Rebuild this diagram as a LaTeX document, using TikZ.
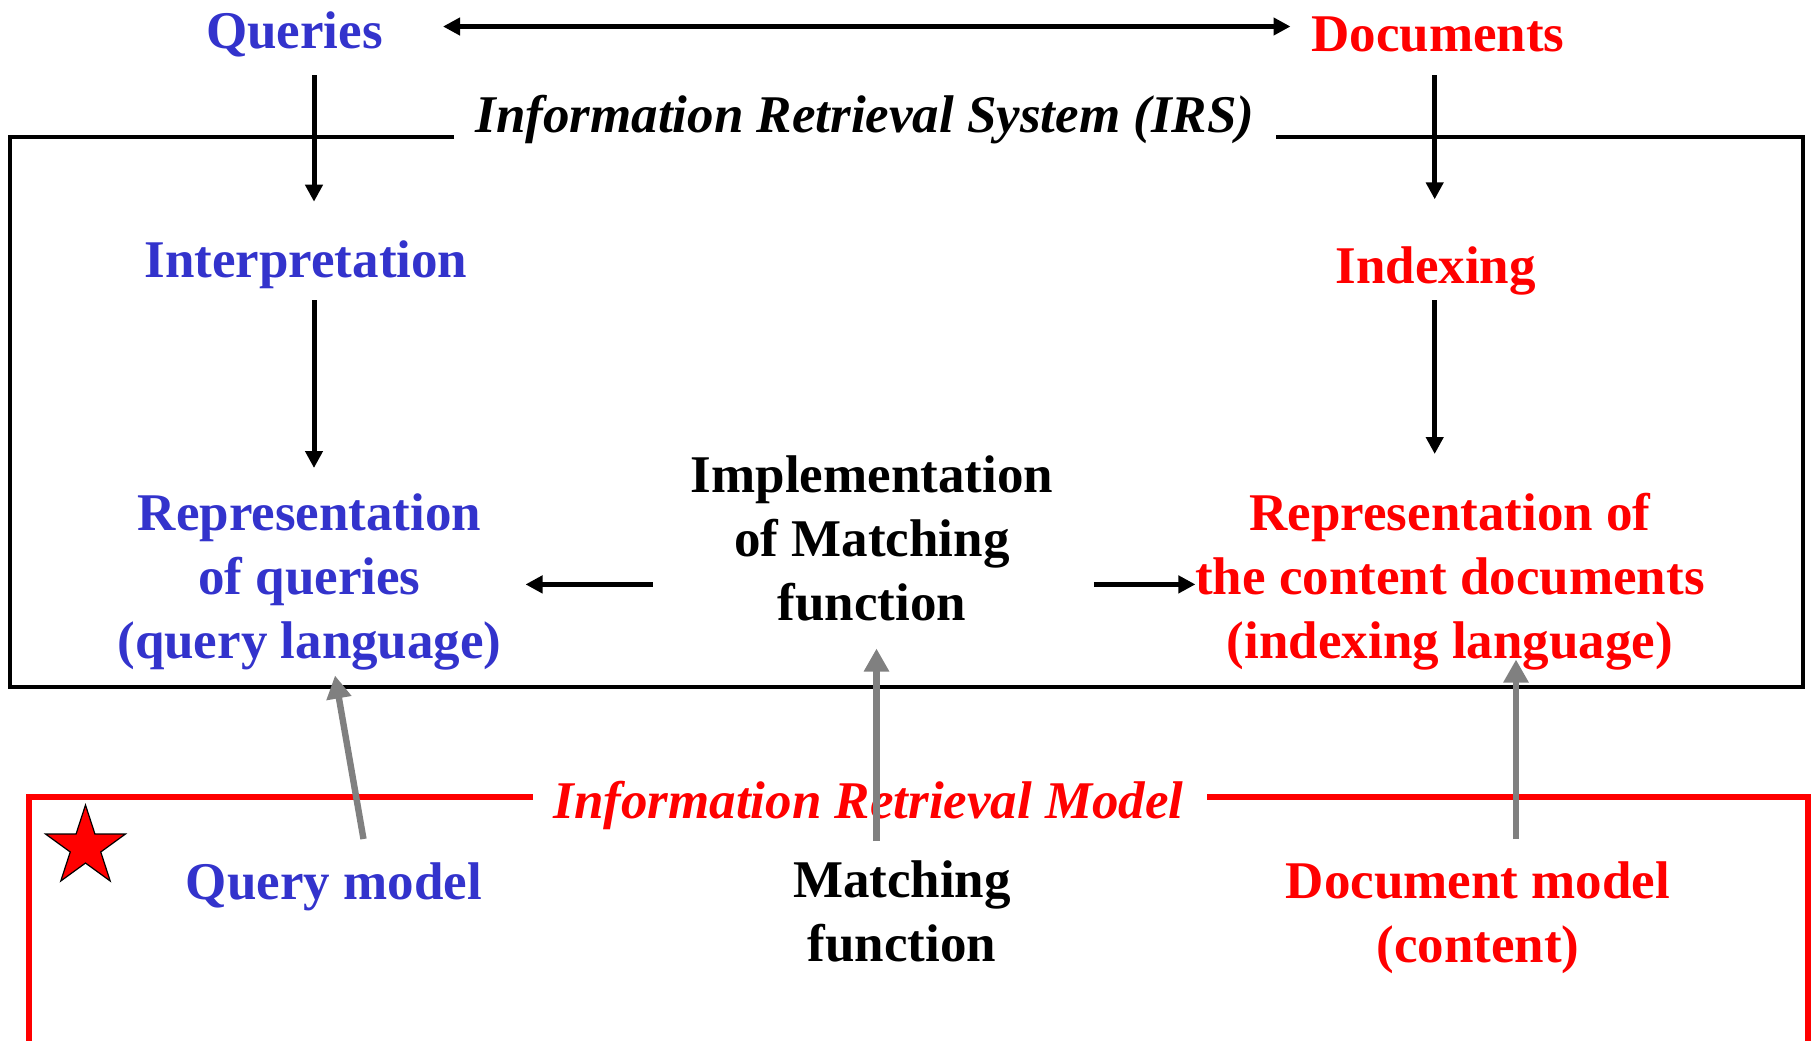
\documentclass[tikz,border=0pt]{standalone}
\usepackage{fontspec}
\setmainfont{Liberation Serif}
\usetikzlibrary{arrows.meta,shapes.geometric}

\definecolor{qblue}{RGB}{51,51,204}
\definecolor{dred}{RGB}{255,0,0}
\definecolor{mgray}{RGB}{128,128,128}

\begin{document}
\begin{tikzpicture}[x=0.5pt,y=-0.5pt,
  lbl/.style={font=\fontsize{26.5}{32}\selectfont\bfseries, align=center, inner sep=0pt},
  ttl/.style={lbl, font=\fontsize{26.5}{32}\selectfont\bfseries\itshape},
  qtext/.style={lbl, text=qblue},
  dtext/.style={lbl, text=dred},
  mtext/.style={lbl, text=black},
  flow/.style={line width=2.5pt, -{Triangle[length=8.5pt,width=8.5pt]}},
  bothways/.style={line width=2.5pt, {Triangle[length=8.5pt,width=8.5pt]}-{Triangle[length=8.5pt,width=8.5pt]}},
  model/.style={line width=3.2pt, draw=mgray, -{Triangle[length=11.5pt,width=12pt]}},
  sysframe/.style={line width=2pt, draw=black},
  modframe/.style={line width=3pt, draw=dred},
]
\useasboundingbox (0,0) rectangle (1811,1040);

% frames with gaps for their titles
\draw[sysframe] (454,137.4) -- (10.4,137.4) -- (10.4,687) -- (1803,687) -- (1803,137.4) -- (1276,137.4);
\draw[modframe] (532.5,797) -- (28.9,797) -- (28.9,1060);
\draw[modframe] (1207,797) -- (1807.5,797) -- (1807.5,1060);

% texts
\node[qtext] (queries) at (294.5,34) {Queries};
\node[dtext] (documents) at (1438,34) {Documents};
\node[ttl] (irs) at (865,120) {Information Retrieval System (IRS)};
\node[qtext] (interp) at (306,264.5) {Interpretation};
\node[dtext] (indexing) at (1435.7,271.3) {Indexing};
\node[qtext] (repq) at (309.5,582) {Representation\\of queries\\(query language)};
\node[mtext] (impl) at (872,538) {Implementation\\of Matching\\function};
\node[dtext] (repd) at (1450,582) {Representation of\\the content documents\\(indexing language)};
\node[ttl, text=dred] (irm) at (868.6,805) {Information Retrieval Model};
\node[qtext] (qmodel) at (333.8,887) {Query model};
\node[mtext] (mfun) at (902,911.7) {Matching\\function};
\node[dtext] (dmodel) at (1478,918) {Document model\\(content)};

% star mark
\node[star, star points=5, star point ratio=2.618, minimum size=42pt, inner sep=0pt,
      fill=dred, draw=black, line width=0.6pt] (mark) at (85.5,847) {};

% connector ends
\coordinate (topL) at (443,26.5);
\coordinate (topR) at (1290.5,26.5);
\coordinate (qdA) at (314,75);
\coordinate (qdB) at (314,201.7);
\coordinate (ddA) at (1434.7,75);
\coordinate (ddB) at (1434.7,199.3);
\coordinate (inA) at (314,300);
\coordinate (inB) at (314,468);
\coordinate (ixA) at (1434.7,300);
\coordinate (ixB) at (1434.7,454);
\coordinate (lfA) at (652.6,584.4);
\coordinate (lfB) at (525.5,584.4);
\coordinate (rtA) at (1093.8,584.4);
\coordinate (rtB) at (1195.4,584.4);
\coordinate (gqA) at (363.5,839);
\coordinate (gqB) at (335,675.5);
\coordinate (gmA) at (876.5,841);
\coordinate (gmB) at (876.5,648.5);
\coordinate (gdA) at (1516,839);
\coordinate (gdB) at (1516,659.5);

% black flow arrows
\draw[bothways] (topL) -- (topR);
\draw[flow] (qdA) -- (qdB);
\draw[flow] (ddA) -- (ddB);
\draw[flow] (inA) -- (inB);
\draw[flow] (ixA) -- (ixB);
\draw[flow] (lfA) -- (lfB);
\draw[flow] (rtA) -- (rtB);

% grey model arrows
\draw[model] (gqA) -- (gqB);
\draw[model] (gmA) -- (gmB);
\draw[model] (gdA) -- (gdB);
\end{tikzpicture}
\end{document}
